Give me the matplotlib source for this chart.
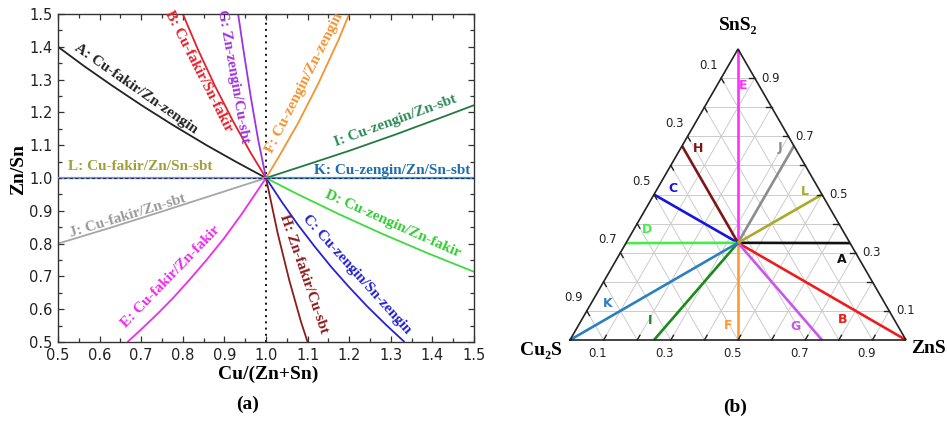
import numpy as np
import matplotlib
matplotlib.use("Agg")
import matplotlib.pyplot as plt

# ---------------- data: panel (a) curves (Cu/(Zn+Sn), Zn/Sn) ----------------
curve_A_x = [0.500, 0.564, 0.632, 0.703, 0.778, 0.857, 0.927, 1.000]
curve_A_y = [1.400, 1.340, 1.280, 1.220, 1.160, 1.100, 1.050, 1.000]
curve_B_x = [0.800, 0.837, 0.878, 0.920, 0.963, 1.000]
curve_B_y = [1.500, 1.390, 1.279, 1.175, 1.077, 1.000]
curve_C_x = [1.000, 1.038, 1.077, 1.117, 1.158, 1.200, 1.243, 1.288, 1.333]
curve_C_y = [1.000, 0.927, 0.857, 0.791, 0.727, 0.667, 0.609, 0.553, 0.500]
curve_D_x = [1.000, 1.077, 1.175, 1.279, 1.390, 1.500]
curve_D_y = [1.000, 0.950, 0.890, 0.830, 0.770, 0.714]
curve_E_x = [0.667, 0.703, 0.740, 0.778, 0.817, 0.857, 0.899, 0.941, 1.000]
curve_E_y = [0.500, 0.542, 0.587, 0.636, 0.691, 0.750, 0.816, 0.889, 1.000]
curve_F_x = [1.000, 1.030, 1.077, 1.125, 1.175, 1.200]
curve_F_y = [1.000, 1.063, 1.167, 1.286, 1.423, 1.500]
curve_G_x = [1.000, 0.981, 0.963, 0.945, 0.933]
curve_G_y = [1.000, 1.118, 1.250, 1.397, 1.500]
curve_H_x = [1.000, 1.028, 1.056, 1.084, 1.100]
curve_H_y = [1.000, 0.832, 0.688, 0.562, 0.500]
curve_I_x = [1.000, 1.097, 1.200, 1.310, 1.429, 1.500]
curve_I_y = [1.000, 1.040, 1.083, 1.132, 1.188, 1.222]
curve_J_x = [0.500, 0.625, 0.750, 0.875, 1.000]
curve_J_y = [0.800, 0.848, 0.898, 0.949, 1.000]
curve_K_x = [1.000, 1.500]
curve_K_y = [1.000, 1.000]
curve_L_x = [0.500, 1.000]
curve_L_y = [1.000, 1.000]

label_texts = {
    "A": "A: Cu-fakir/Zn-zengin", "B": "B: Cu-fakir/Sn-fakir",
    "C": "C: Cu-zengin/Sn-zengin", "D": "D: Cu-zengin/Zn-fakir",
    "E": "E: Cu-fakir/Zn-fakir", "F": "F: Cu-zengin/Zn-zengin",
    "G": "G: Zn-zengin/Cu-sbt", "H": "H: Zn-fakir/Cu-sbt",
    "I": "I: Cu-zengin/Zn-sbt", "J": "J: Cu-fakir/Zn-sbt",
    "K": "K: Cu-zengin/Zn/Sn-sbt", "L": "L: Cu-fakir/Zn/Sn-sbt",
}

x_ticks = [0.5, 0.6, 0.7, 0.8, 0.9, 1.0, 1.1, 1.2, 1.3, 1.4, 1.5]
y_ticks = [0.5, 0.6, 0.7, 0.8, 0.9, 1.0, 1.1, 1.2, 1.3, 1.4, 1.5]

# ---------------- data: panel (b) ternary lines (Cu2S, ZnS, SnS2) ----------------
tern_letters = ["A", "B", "C", "D", "E", "F", "G", "H", "I", "J", "K", "L"]
center_comp = [0.333, 0.333, 0.334]
end_cu2s = [0.0, 0.0, 0.5, 0.667, 0.0, 0.5, 0.25, 0.333, 0.75, 0.0, 1.0, 0.0]
end_zns  = [0.667, 1.0, 0.0, 0.0, 0.0, 0.5, 0.75, 0.0, 0.25, 0.333, 0.0, 0.5]
end_sns2 = [0.333, 0.0, 0.5, 0.333, 1.0, 0.0, 0.0, 0.667, 0.0, 0.667, 0.0, 0.5]
tern_ticks = [0.1, 0.2, 0.3, 0.4, 0.5, 0.6, 0.7, 0.8, 0.9]
tern_tick_labels = ["0.1", "0.3", "0.5", "0.7", "0.9"]

# ---------------- styles ----------------
col_a = {"A": "#222222", "B": "#e3212b", "C": "#2323d2", "D": "#3bdc3b",
         "E": "#ee2bee", "F": "#f39431", "G": "#a033e0", "H": "#8b1c1c",
         "I": "#247a3c", "J": "#a6a6a6", "K": "#3a9fb0", "L": "#8b96b0"}
txt_a = dict(col_a)
txt_a.update({"D": "#33cc33", "I": "#2e8b57", "J": "#9a9a9a", "K": "#1f6fad",
              "L": "#a0a03a"})
col_b = {"A": "#111111", "B": "#ee1c1c", "C": "#1515dd", "D": "#44ee44",
         "E": "#ff30ff", "F": "#ff9a30", "G": "#cc55ee", "H": "#7f1515",
         "I": "#1a8a1a", "J": "#8c8c8c", "K": "#2a80c0", "L": "#a9a92a"}

serif = ["Liberation Serif", "DejaVu Serif"]
plt.rcParams["font.family"] = ["DejaVu Sans"]

fig = plt.figure(figsize=(9.47, 4.23), dpi=100)
W, H = 947.0, 423.0

# ======================= panel (a) =======================
ax = fig.add_axes([58 / W, (H - 342) / H, 416 / W, 328 / H])
curves = {
    "A": (curve_A_x, curve_A_y), "B": (curve_B_x, curve_B_y),
    "C": (curve_C_x, curve_C_y), "D": (curve_D_x, curve_D_y),
    "E": (curve_E_x, curve_E_y), "F": (curve_F_x, curve_F_y),
    "G": (curve_G_x, curve_G_y), "H": (curve_H_x, curve_H_y),
    "I": (curve_I_x, curve_I_y), "J": (curve_J_x, curve_J_y),
}
ax.axvline(1.0, color="#111111", lw=1.4, ls=(0, (1, 2.2)), zorder=1)
for k, (xs, ys) in curves.items():
    ax.plot(xs, ys, color=col_a[k], lw=1.3, zorder=2, solid_capstyle="butt")
for k, (xs, ys) in {"K": (curve_K_x, curve_K_y), "L": (curve_L_x, curve_L_y)}.items():
    ax.plot(xs, ys, color=col_a[k], lw=1.6, zorder=3)
    ax.plot(xs, ys, color="#1c2a7a", lw=0.8, ls=(0, (3, 2)), zorder=4)

ax.set_xlim(0.5, 1.5)
ax.set_ylim(0.5, 1.5)
ax.set_xticks(x_ticks)
ax.set_yticks(y_ticks)
ax.set_xticklabels([f"{v:.1f}" for v in x_ticks])
ax.set_yticklabels([f"{v:.1f}" for v in y_ticks])
ax.set_xticks(np.arange(0.55, 1.5, 0.1), minor=True)
ax.set_yticks(np.arange(0.55, 1.5, 0.1), minor=True)
ax.tick_params(which="both", direction="in", top=True, right=True,
               color="#333333", width=0.9)
ax.tick_params(which="major", length=4.5, labelsize=10.5, pad=4,
               labelcolor="#222222")
ax.tick_params(which="minor", length=3)
for s in ax.spines.values():
    s.set_color("#333333")
    s.set_linewidth(1.0)

ax.set_xlabel("Cu/(Zn+Sn)", family=serif, fontweight="bold", fontsize=14)
ax.set_ylabel("Zn/Sn", family=serif, fontweight="bold", fontsize=14)
ax.xaxis.set_label_coords(0.505, -0.073)
ax.yaxis.set_label_coords(-0.074, 0.527)

label_pos = {
    "A": (0.6875, 1.271, -35), "B": (0.838, 1.325, -63), "G": (0.922, 1.310, -80),
    "F": (1.092, 1.290, 63), "I": (1.310, 1.174, 20), "K": (1.303, 1.024, 0),
    "L": (0.697, 1.034, 0), "J": (0.668, 0.884, 17), "E": (0.772, 0.698, 46),
    "D": (1.305, 0.860, -24), "C": (1.219, 0.707, -48), "H": (1.091, 0.707, -71),
}
for k, (x, y, r) in label_pos.items():
    ax.text(x, y, label_texts[k], color=txt_a[k], rotation=r, ha="center",
            va="center", rotation_mode="anchor", family=serif,
            fontweight="bold", fontsize=11, zorder=5)

fig.text(248 / W, 1 - 404 / H, "(a)", family=serif, fontweight="bold",
         fontsize=14, ha="center", va="center")

# ======================= panel (b) =======================
S = 336.0
bx = fig.add_axes([500 / W, 0, 447 / W, 1])
bx.set_xlim((500 - 570) / S, (947 - 570) / S)
bx.set_ylim((340 - 423) / S, 340 / S)
bx.axis("off")
R3 = np.sqrt(3) / 2


def txy(a, b, c):
    return b + c / 2.0, c * R3


# grid lines
for v in tern_ticks:
    for p, q in [((1 - v, 0, v), (0, 1 - v, v)),
                 ((v, 1 - v, 0), (v, 0, 1 - v)),
                 ((1 - v, v, 0), (0, v, 1 - v))]:
        x1, y1 = txy(*p)
        x2, y2 = txy(*q)
        bx.plot([x1, x2], [y1, y2], color="#cccccc", lw=0.7, zorder=1)

# triangle
tri = [txy(1, 0, 0), txy(0, 1, 0), txy(0, 0, 1), txy(1, 0, 0)]
bx.plot([p[0] for p in tri], [p[1] for p in tri], color="#222222", lw=1.2,
        zorder=4, solid_joinstyle="miter")

# ticks
L = 0.016
for v in tern_ticks:
    x0, y0 = txy(1 - v, v, 0)
    bx.plot([x0, x0 + 0.5 * L], [y0, y0 + R3 * L], color="#222222", lw=1.0, zorder=4)
    x0, y0 = txy(v, 0, 1 - v)
    bx.plot([x0, x0 + 0.5 * L], [y0, y0 - R3 * L], color="#222222", lw=1.0, zorder=4)
    x0, y0 = txy(0, 1 - v, v)
    bx.plot([x0, x0 - L], [y0, y0], color="#222222", lw=1.0, zorder=4)

for t in tern_tick_labels:
    v = float(t)
    bx.annotate(t, txy(1 - v, v, 0), xytext=(-6, -13), textcoords="offset pixels",
                ha="center", va="center", fontsize=8.5, color="#222222")
    bx.annotate(t, txy(v, 0, 1 - v), xytext=(-13, 13), textcoords="offset pixels",
                ha="center", va="center", fontsize=8.5, color="#222222")
    bx.annotate(t, txy(0, 1 - v, v), xytext=(16, 0), textcoords="offset pixels",
                ha="center", va="center", fontsize=8.5, color="#222222")

# composition lines
cx, cy = txy(*center_comp)
for i, k in enumerate(tern_letters):
    ex, ey = txy(end_cu2s[i], end_zns[i], end_sns2[i])
    bx.plot([cx, ex], [cy, ey], color=col_b[k], lw=1.9, zorder=3,
            solid_capstyle="butt")

tern_label_pos = {
    "A": (0.8095, 0.241), "B": (0.8125, 0.060), "C": (0.3065, 0.452),
    "D": (0.229, 0.330), "E": (0.515, 0.756), "F": (0.470, 0.042),
    "G": (0.670, 0.039), "H": (0.381, 0.569), "I": (0.238, 0.057),
    "J": (0.625, 0.574), "K": (0.113, 0.110), "L": (0.699, 0.441),
}
for k, (x, y) in tern_label_pos.items():
    bx.text(x, y, k, color=col_b[k], fontsize=9, fontweight="bold",
            ha="center", va="center", zorder=5)

# vertex labels
bx.text((541 - 570) / S, (340 - 350) / S, "Cu\u2082S", family=serif,
        fontweight="bold", fontsize=14, ha="center", va="center")
bx.text((928 - 570) / S, (340 - 348) / S, "ZnS", family=serif,
        fontweight="bold", fontsize=14, ha="center", va="center")
bx.text((738 - 570) / S, (340 - 25) / S, "SnS\u2082", family=serif,
        fontweight="bold", fontsize=14, ha="center", va="center")

fig.text(735 / W, 1 - 407 / H, "(b)", family=serif, fontweight="bold",
         fontsize=14, ha="center", va="center")

fig.savefig("out.png", dpi=100)
